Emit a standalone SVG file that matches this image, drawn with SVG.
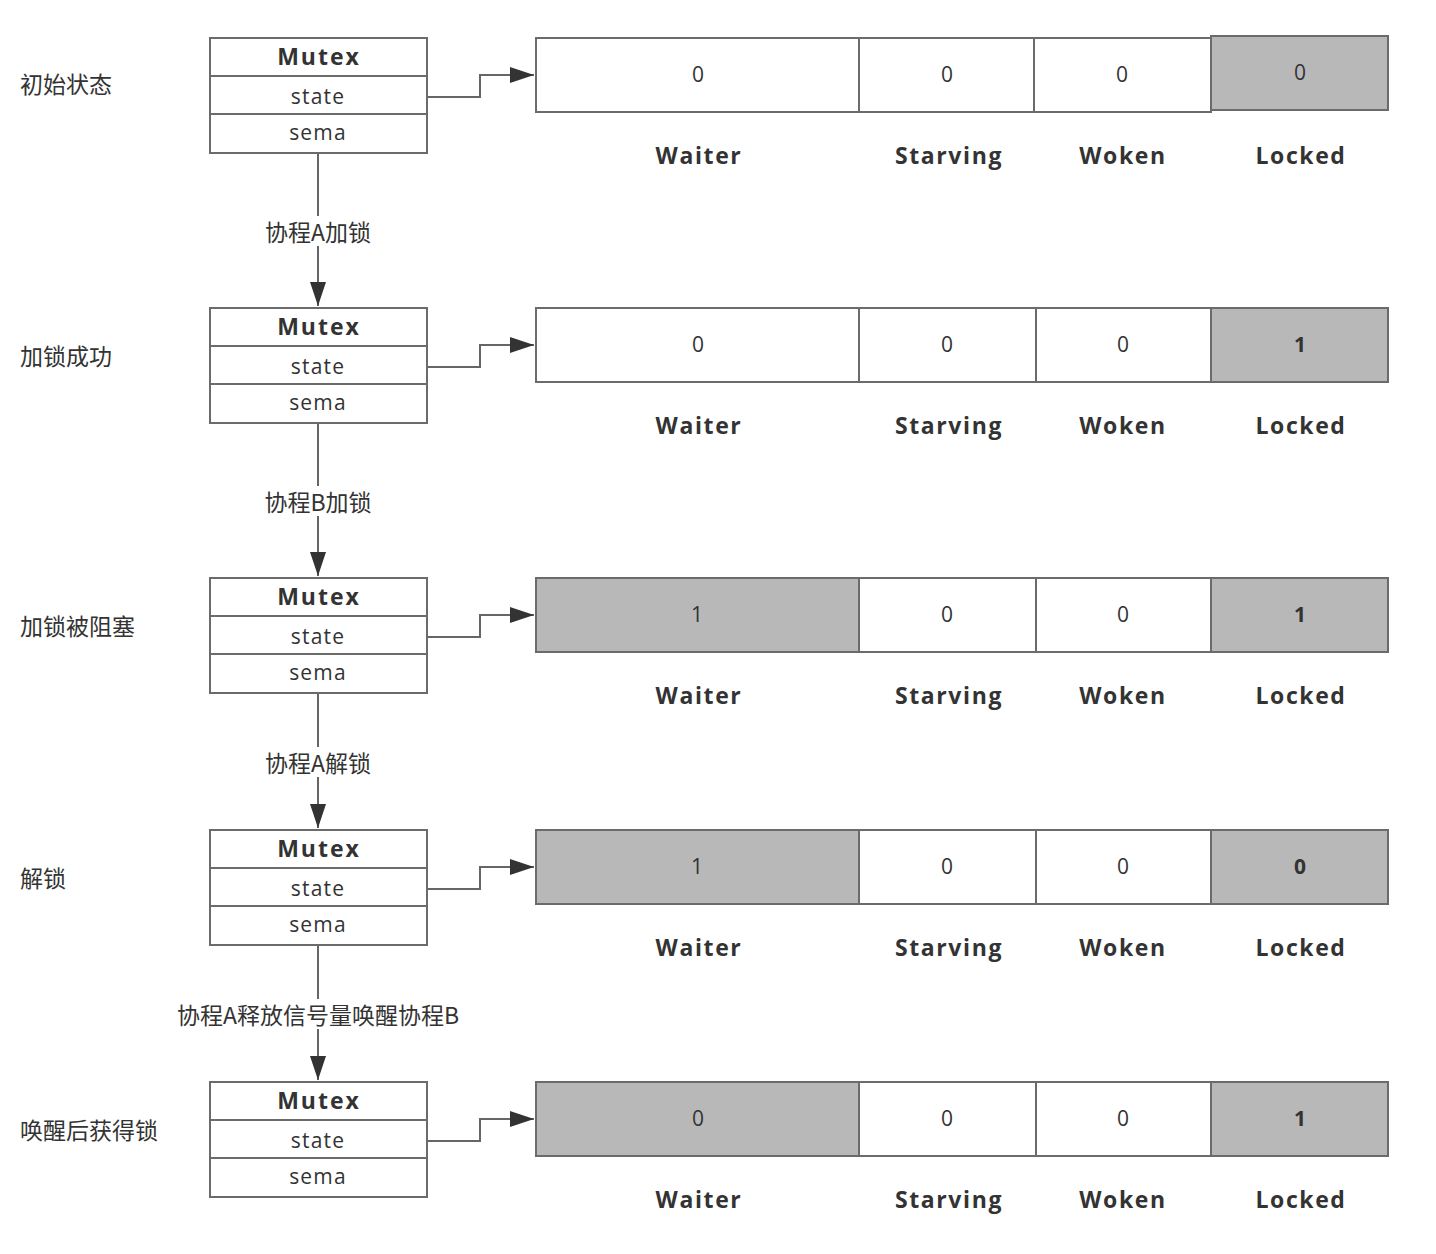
<svg xmlns="http://www.w3.org/2000/svg" width="1436" height="1254" viewBox="0 0 1436 1254">
<defs>
<style>
.box{fill:#fff;stroke:#6b6b6b;stroke-width:2}
.gray{fill:#b8b8b8;stroke:#6b6b6b;stroke-width:2}
.t{font-family:"Open Sans","Noto Sans CJK SC",sans-serif;fill:#333;text-anchor:middle;dominant-baseline:central}
.hd{font-size:23px;font-weight:bold;letter-spacing:2px}
.fld{font-size:21px;letter-spacing:1.2px}
.val{font-size:21px}
.vb{font-size:21px;font-weight:bold}
.lab{font-size:23px;font-weight:bold;letter-spacing:1.6px}
.side{font-family:"Noto Sans CJK SC",sans-serif;font-size:23px;fill:#333;dominant-baseline:central}
.cl{font-family:"Noto Sans CJK SC",sans-serif;font-size:23px;fill:#333;text-anchor:middle;dominant-baseline:central}
.line{fill:none;stroke:#666;stroke-width:2}
</style>
<marker id="ah2" markerWidth="24" markerHeight="16" viewBox="0 0 24 16" refX="24" refY="8" orient="auto" markerUnits="userSpaceOnUse">
<path d="M0,0 L24,8 L0,16 Z" fill="#333"/>
</marker>
</defs>
<rect width="1436" height="1254" fill="#fff"/>

<g id="connectors">
<path class="line" d="M427,97 H480 V75 H534" marker-end="url(#ah2)"/>
<path class="line" d="M427,367 H480 V345 H534" marker-end="url(#ah2)"/>
<path class="line" d="M427,637 H480 V615 H534" marker-end="url(#ah2)"/>
<path class="line" d="M427,889 H480 V867 H534" marker-end="url(#ah2)"/>
<path class="line" d="M427,1141 H480 V1119 H534" marker-end="url(#ah2)"/>
<path class="line" d="M318,153 V306" marker-end="url(#ah2)"/>
<path class="line" d="M318,423 V576" marker-end="url(#ah2)"/>
<path class="line" d="M318,693 V828" marker-end="url(#ah2)"/>
<path class="line" d="M318,945 V1080" marker-end="url(#ah2)"/>
<rect x="258" y="216" width="120" height="30" fill="#fff"/>
<text class="cl" x="318" y="231">协程A加锁</text>
<rect x="258" y="486" width="120" height="30" fill="#fff"/>
<text class="cl" x="318" y="501">协程B加锁</text>
<rect x="258" y="747" width="120" height="30" fill="#fff"/>
<text class="cl" x="318" y="762">协程A解锁</text>
<rect x="170" y="999" width="296" height="30" fill="#fff"/>
<text class="cl" x="318" y="1014">协程A释放信号量唤醒协程B</text>
</g>

<g id="row1">
<text class="side" x="20" y="83">初始状态</text>
<g id="mutex1"><rect class="box" x="210" y="38" width="217" height="38"/><rect class="box" x="210" y="76" width="217" height="38"/><rect class="box" x="210" y="114" width="217" height="39"/>
<text class="t hd" x="319" y="56">Mutex</text><text class="t fld" x="318" y="96">state</text><text class="t fld" x="318" y="132">sema</text></g>
<g id="state1"><rect class="box" x="536" y="38" width="323" height="74"/><rect class="box" x="859" y="38" width="175" height="74"/><rect class="box" x="1034" y="38" width="177" height="74"/><rect class="gray" x="1211" y="36" width="177" height="74"/>
<text class="t val" x="698" y="74">0</text><text class="t val" x="947" y="74">0</text><text class="t val" x="1122" y="74">0</text><text class="t val" x="1300" y="72">0</text>
<text class="t lab" x="699" y="155">Waiter</text><text class="t lab" x="949" y="155">Starving</text><text class="t lab" x="1123" y="155">Woken</text><text class="t lab" x="1301" y="155">Locked</text></g>
</g>

<g id="row2">
<text class="side" x="20" y="355">加锁成功</text>
<g id="mutex2"><rect class="box" x="210" y="308" width="217" height="38"/><rect class="box" x="210" y="346" width="217" height="38"/><rect class="box" x="210" y="384" width="217" height="39"/>
<text class="t hd" x="319" y="326">Mutex</text><text class="t fld" x="318" y="366">state</text><text class="t fld" x="318" y="402">sema</text></g>
<g id="state2"><rect class="box" x="536" y="308" width="323" height="74"/><rect class="box" x="859" y="308" width="177" height="74"/><rect class="box" x="1036" y="308" width="175" height="74"/><rect class="gray" x="1211" y="308" width="177" height="74"/>
<text class="t val" x="698" y="344">0</text><text class="t val" x="947" y="344">0</text><text class="t val" x="1123" y="344">0</text><text class="t vb" x="1300" y="344">1</text>
<text class="t lab" x="699" y="425">Waiter</text><text class="t lab" x="949" y="425">Starving</text><text class="t lab" x="1123" y="425">Woken</text><text class="t lab" x="1301" y="425">Locked</text></g>
</g>

<g id="row3">
<text class="side" x="20" y="625">加锁被阻塞</text>
<g id="mutex3"><rect class="box" x="210" y="578" width="217" height="38"/><rect class="box" x="210" y="616" width="217" height="38"/><rect class="box" x="210" y="654" width="217" height="39"/>
<text class="t hd" x="319" y="596">Mutex</text><text class="t fld" x="318" y="636">state</text><text class="t fld" x="318" y="672">sema</text></g>
<g id="state3"><rect class="gray" x="536" y="578" width="323" height="74"/><rect class="box" x="859" y="578" width="177" height="74"/><rect class="box" x="1036" y="578" width="175" height="74"/><rect class="gray" x="1211" y="578" width="177" height="74"/>
<text class="t val" x="697" y="614">1</text><text class="t val" x="947" y="614">0</text><text class="t val" x="1123" y="614">0</text><text class="t vb" x="1300" y="614">1</text>
<text class="t lab" x="699" y="695">Waiter</text><text class="t lab" x="949" y="695">Starving</text><text class="t lab" x="1123" y="695">Woken</text><text class="t lab" x="1301" y="695">Locked</text></g>
</g>

<g id="row4">
<text class="side" x="20" y="877">解锁</text>
<g id="mutex4"><rect class="box" x="210" y="830" width="217" height="38"/><rect class="box" x="210" y="868" width="217" height="38"/><rect class="box" x="210" y="906" width="217" height="39"/>
<text class="t hd" x="319" y="848">Mutex</text><text class="t fld" x="318" y="888">state</text><text class="t fld" x="318" y="924">sema</text></g>
<g id="state4"><rect class="gray" x="536" y="830" width="323" height="74"/><rect class="box" x="859" y="830" width="177" height="74"/><rect class="box" x="1036" y="830" width="175" height="74"/><rect class="gray" x="1211" y="830" width="177" height="74"/>
<text class="t val" x="697" y="866">1</text><text class="t val" x="947" y="866">0</text><text class="t val" x="1123" y="866">0</text><text class="t vb" x="1300" y="866">0</text>
<text class="t lab" x="699" y="947">Waiter</text><text class="t lab" x="949" y="947">Starving</text><text class="t lab" x="1123" y="947">Woken</text><text class="t lab" x="1301" y="947">Locked</text></g>
</g>

<g id="row5">
<text class="side" x="20" y="1129">唤醒后获得锁</text>
<g id="mutex5"><rect class="box" x="210" y="1082" width="217" height="38"/><rect class="box" x="210" y="1120" width="217" height="38"/><rect class="box" x="210" y="1158" width="217" height="39"/>
<text class="t hd" x="319" y="1100">Mutex</text><text class="t fld" x="318" y="1140">state</text><text class="t fld" x="318" y="1176">sema</text></g>
<g id="state5"><rect class="gray" x="536" y="1082" width="323" height="74"/><rect class="box" x="859" y="1082" width="177" height="74"/><rect class="box" x="1036" y="1082" width="175" height="74"/><rect class="gray" x="1211" y="1082" width="177" height="74"/>
<text class="t val" x="698" y="1118">0</text><text class="t val" x="947" y="1118">0</text><text class="t val" x="1123" y="1118">0</text><text class="t vb" x="1300" y="1118">1</text>
<text class="t lab" x="699" y="1199">Waiter</text><text class="t lab" x="949" y="1199">Starving</text><text class="t lab" x="1123" y="1199">Woken</text><text class="t lab" x="1301" y="1199">Locked</text></g>
</g>
</svg>
